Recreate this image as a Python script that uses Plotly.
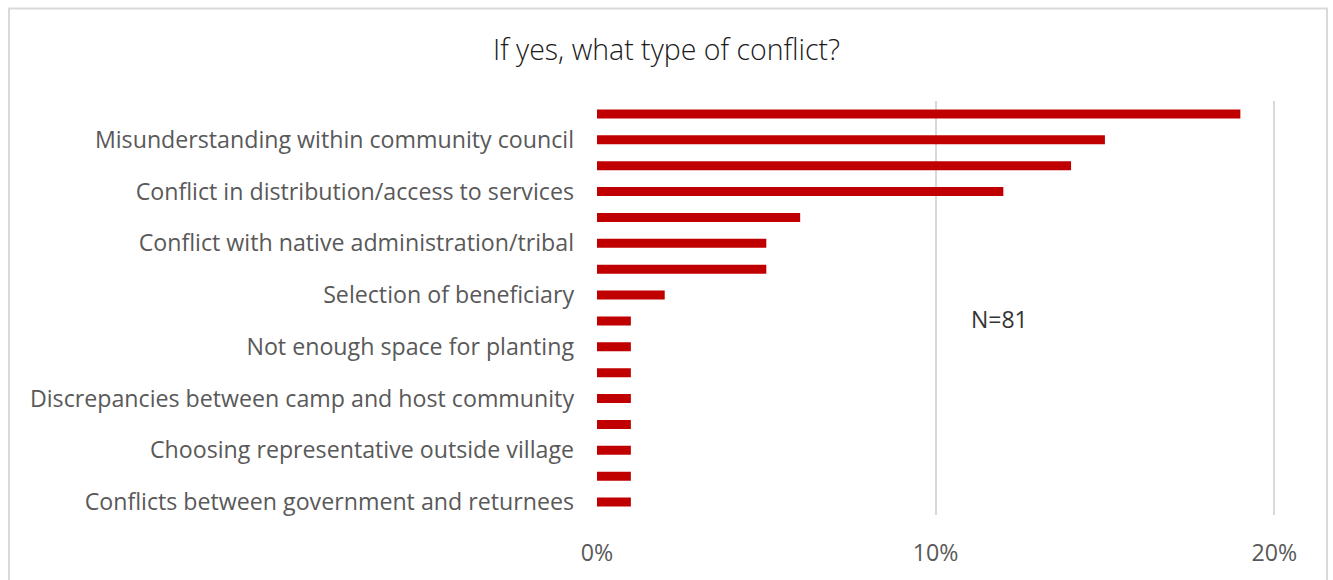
import plotly.graph_objects as go

# Conflict types, top to bottom; only every other row carries a printed label
labels = [
    "",
    "Misunderstanding within community council",
    "",
    "Conflict in distribution/access to services",
    "",
    "Conflict with native administration/tribal",
    "",
    "Selection of beneficiary",
    "",
    "Not enough space for planting",
    "",
    "Discrepancies between camp and host community",
    "",
    "Choosing representative outside village",
    "",
    "Conflicts between government and returnees",
]
shares = [19, 15, 14, 12, 6, 5, 5, 2, 1, 1, 1, 1, 1, 1, 1, 1]  # percent of respondents
x_ticks = [0, 10, 20]
x_tick_text = ["0%", "10%", "20%"]

positions = list(range(len(shares)))

W, H = 1333, 580
left, right, top, bottom = 597, 52, 101, 63

fig = go.Figure(
    go.Bar(
        x=shares,
        y=positions,
        orientation="h",
        marker=dict(color="#C00000", line=dict(width=0)),
        width=0.35,
        hoverinfo="x",
    )
)

label_font = dict(family="Open Sans", size=23.2, color="#595959")

fig.update_layout(
    width=W,
    height=H,
    margin=dict(l=left, r=right, t=top, b=bottom),
    paper_bgcolor="white",
    plot_bgcolor="white",
    showlegend=False,
    title=dict(
        text="If yes, what type of conflict?",
        x=0.5,
        xanchor="center",
        y=1 - 50 / H,
        yanchor="middle",
        yref="container",
        font=dict(family="Open Sans", size=28.5, color="#1a1a1a", weight=300),
    ),
    xaxis=dict(
        range=[0, 20.2],
        tickvals=x_ticks,
        ticktext=x_tick_text,
        showgrid=True,
        gridcolor="#d9d9d9",
        gridwidth=1.5,
        zeroline=False,
        showline=False,
        ticks="",
        tickfont=label_font,
        ticklabelstandoff=22,
    ),
    yaxis=dict(
        range=[len(shares) - 0.5, -0.5],
        tickvals=positions,
        ticktext=labels,
        showgrid=False,
        zeroline=False,
        showline=False,
        ticks="",
        tickfont=label_font,
        ticklabelstandoff=22,
    ),
    annotations=[
        dict(
            text="N=81",
            xref="paper",
            yref="paper",
            x=(999 - left) / (W - left - right),
            y=(H - bottom - 320) / (H - top - bottom),
            showarrow=False,
            font=dict(family="Open Sans", size=23, color="#333333"),
        )
    ],
    shapes=[
        dict(
            type="rect",
            xref="paper",
            yref="paper",
            x0=(9 - left) / (W - left - right),
            x1=(1327 - left) / (W - left - right),
            y0=(H - bottom - 590) / (H - top - bottom),
            y1=(H - bottom - 8) / (H - top - bottom),
            line=dict(color="#d9d9d9", width=2),
            fillcolor="rgba(0,0,0,0)",
            layer="below",
        )
    ],
)

fig.write_html("out.html")
